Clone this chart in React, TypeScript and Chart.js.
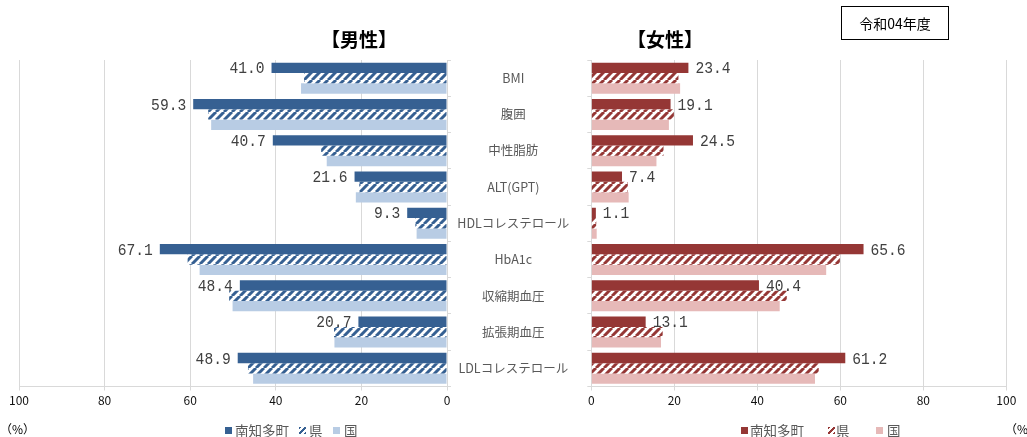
import React, { useEffect, useRef } from 'react';
import { Chart, registerables } from 'chart.js';

Chart.register(...registerables);

const categories = ['BMI', '腹囲', '中性脂肪', 'ALT(GPT)', 'HDLコレステロール', 'HbA1c', '収縮期血圧', '拡張期血圧', 'LDLコレステロール'];
const seriesNames = ['南知多町', '県', '国'];
const maleTown = [41.0, 59.3, 40.7, 21.6, 9.3, 67.1, 48.4, 20.7, 48.9];
const malePref = [33.4, 55.8, 29.4, 20.5, 7.4, 60.6, 50.9, 26.4, 46.5];
const maleNation = [34.1, 55.1, 28.1, 21.3, 7.1, 57.8, 50.1, 26.3, 45.3];
const femaleTown = [23.4, 19.1, 24.5, 7.4, 1.1, 65.6, 40.4, 13.1, 61.2];
const femalePref = [21.0, 19.9, 17.4, 8.8, 1.2, 59.9, 47.1, 17.2, 54.8];
const femaleNation = [21.4, 18.7, 15.7, 9.0, 1.3, 56.6, 45.4, 16.8, 53.9];
const axisMin = 0;
const axisMax = 100;
const axisStep = 20;

const FONT = '"Noto Sans CJK JP", "Noto Sans", sans-serif';
const MALE_DARK = '#366092';
const MALE_LIGHT = '#B8CCE4';
const FEMALE_DARK = '#953735';
const FEMALE_LIGHT = '#E6B9B8';
const GRID = '#D9D9D9';

function makeHatch(color: string) {
  const c = document.createElement('canvas');
  c.width = 8;
  c.height = 8;
  const g = c.getContext('2d')!;
  g.fillStyle = '#ffffff';
  g.fillRect(0, 0, 8, 8);
  g.strokeStyle = color;
  g.lineWidth = 3;
  g.beginPath();
  for (let i = -1; i <= 1; i++) {
    g.moveTo(i * 8, 8);
    g.lineTo(i * 8 + 8, 0);
  }
  g.stroke();
  return g.createPattern(c, 'repeat')!;
}

function labelPlugin(side: 'left' | 'right') {
  return {
    id: 'townLabels',
    afterDatasetsDraw(chart: any) {
      const ctx = chart.ctx;
      const meta = chart.getDatasetMeta(0);
      const data = chart.data.datasets[0].data as number[];
      const sx = 0.86;
      meta.data.forEach((el: any, i: number) => {
        const v = data[i];
        const x = side === 'left' ? el.x - 7 : el.x + 7;
        ctx.save();
        ctx.translate(x, el.y + 1);
        ctx.scale(sx, 1);
        ctx.font = '17px "Liberation Mono", "DejaVu Sans Mono", monospace';
        ctx.fillStyle = '#404040';
        ctx.textBaseline = 'middle';
        ctx.textAlign = side === 'left' ? 'right' : 'left';
        ctx.fillText(v.toFixed(1), 0, 0);
        ctx.restore();
      });
    },
  };
}

function buildConfig(side: 'left' | 'right', town: number[], pref: number[], nation: number[], dark: string, light: string): any {
  const isLeft = side === 'left';
  return {
    type: 'bar',
    data: {
      labels: categories,
      datasets: [
        { label: seriesNames[0], data: town, backgroundColor: dark, borderWidth: 0 },
        { label: seriesNames[1], data: pref, backgroundColor: makeHatch(dark), borderWidth: 0 },
        { label: seriesNames[2], data: nation, backgroundColor: light, borderWidth: 0 },
      ],
    },
    options: {
      indexAxis: 'y',
      animation: false,
      responsive: false,
      maintainAspectRatio: false,
      events: [],
      datasets: { bar: { categoryPercentage: 0.854, barPercentage: 1 } },
      layout: isLeft
        ? { padding: { left: 19, right: 9, top: 60, bottom: 28.5 } }
        : { padding: { left: 0, right: 20.7, top: 60, bottom: 28.5 } },
      plugins: { legend: { display: false }, tooltip: { enabled: false } },
      scales: {
        x: {
          min: axisMin,
          max: axisMax,
          reverse: isLeft,
          ticks: { stepSize: axisStep, color: '#111', font: { size: 12, family: FONT }, padding: 3, maxRotation: 0 },
          grid: { color: GRID, tickLength: 4, lineWidth: 1 },
          border: { color: GRID },
          afterFit: (s: any) => { s.height = 22; },
        },
        y: {
          position: isLeft ? 'right' : 'left',
          ticks: isLeft
            ? { display: false }
            : { display: true, crossAlign: 'center', padding: 18, color: '#595959', font: { size: 12.5, family: FONT } },
          grid: { drawOnChartArea: false, color: GRID, tickLength: 4, offset: true },
          border: { color: GRID },
          afterFit: (s: any) => { s.width = isLeft ? 4 : 139.3; },
        },
      },
    },
    plugins: [labelPlugin(side)],
  };
}

type Item = { name: string; swatchX: number; textX: number; kind: 'solid' | 'hatch' | 'light' };

function LegendRow({ items, dark, light }: { items: Item[]; dark: string; light: string }) {
  return (
    <>
      {items.map((it) => {
        const bg = it.kind === 'solid' ? dark : it.kind === 'light' ? light
          : `repeating-linear-gradient(135deg, ${dark} 0px, ${dark} 2px, #ffffff 2px, #ffffff 4px)`;
        return (
          <React.Fragment key={it.name}>
            <div style={{ position: 'absolute', left: it.swatchX, top: 427, width: 7, height: 7, background: bg }} />
            <div style={{ position: 'absolute', left: it.textX, top: 421, fontSize: 13.5, lineHeight: '18px', color: '#595959', whiteSpace: 'nowrap' }}>{it.name}</div>
          </React.Fragment>
        );
      })}
    </>
  );
}

export default function App() {
  const leftRef = useRef<HTMLCanvasElement>(null);
  const rightRef = useRef<HTMLCanvasElement>(null);

  useEffect(() => {
    document.body.style.margin = '0';
    const l = new Chart(leftRef.current!, buildConfig('left', maleTown, malePref, maleNation, MALE_DARK, MALE_LIGHT));
    const r = new Chart(rightRef.current!, buildConfig('right', femaleTown, femalePref, femaleNation, FEMALE_DARK, FEMALE_LIGHT));
    return () => { l.destroy(); r.destroy(); };
  }, []);

  const leftItems: Item[] = [
    { name: seriesNames[0], swatchX: 225, textX: 235, kind: 'solid' },
    { name: seriesNames[1], swatchX: 299, textX: 309, kind: 'hatch' },
    { name: seriesNames[2], swatchX: 333, textX: 344, kind: 'light' },
  ];
  const rightItems: Item[] = [
    { name: seriesNames[0], swatchX: 741, textX: 750, kind: 'solid' },
    { name: seriesNames[1], swatchX: 828, textX: 836, kind: 'hatch' },
    { name: seriesNames[2], swatchX: 876, textX: 887, kind: 'light' },
  ];

  return (
    <div style={{ position: 'relative', width: 1027, height: 437, overflow: 'hidden', background: '#fff', fontFamily: FONT }}>
      <canvas ref={leftRef} width={460} height={437} style={{ position: 'absolute', left: 0, top: 0, width: 460, height: 437 }} />
      <canvas ref={rightRef} width={575} height={437} style={{ position: 'absolute', left: 452, top: 0, width: 575, height: 437 }} />
      <div style={{ position: 'absolute', left: 359, top: 38, transform: 'translate(-50%, -50%)', fontSize: 19, fontWeight: 700, lineHeight: 1, color: '#000', whiteSpace: 'nowrap' }}>【男性】</div>
      <div style={{ position: 'absolute', left: 665, top: 38, transform: 'translate(-50%, -50%)', fontSize: 19, fontWeight: 700, lineHeight: 1, color: '#000', whiteSpace: 'nowrap' }}>【女性】</div>
      <div style={{ position: 'absolute', left: 841, top: 6, width: 106, height: 32, border: '1.5px solid #000', display: 'flex', alignItems: 'center', justifyContent: 'center', fontSize: 14, color: '#000', whiteSpace: 'nowrap' }}>令和04年度</div>
      <div style={{ position: 'absolute', left: 0, top: 420, fontSize: 12, lineHeight: '18px', color: '#000', whiteSpace: 'nowrap' }}>（%）</div>
      <div style={{ position: 'absolute', left: 1005, top: 420, fontSize: 12, lineHeight: '18px', color: '#000', whiteSpace: 'nowrap' }}>（%）</div>
      <LegendRow items={leftItems} dark={MALE_DARK} light={MALE_LIGHT} />
      <LegendRow items={rightItems} dark={FEMALE_DARK} light={FEMALE_LIGHT} />
    </div>
  );
}
